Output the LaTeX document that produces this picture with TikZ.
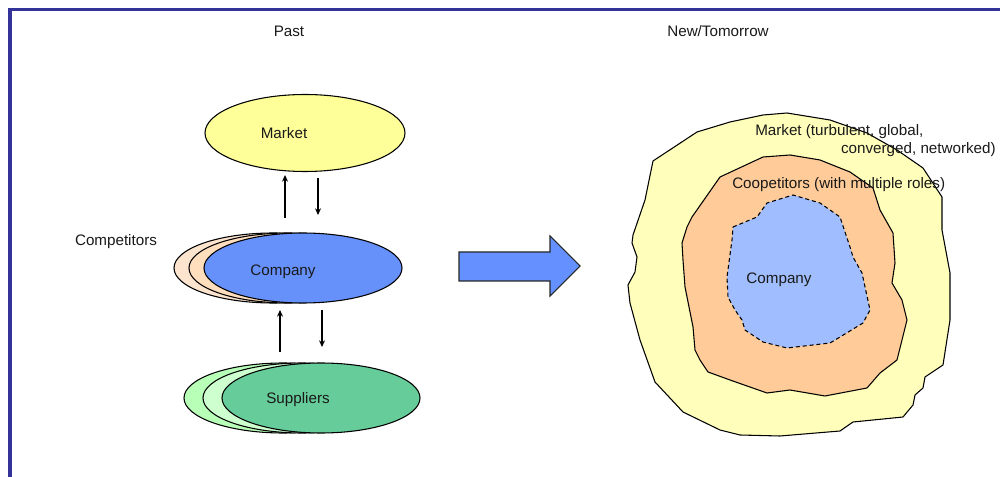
\documentclass[tikz,border=0pt]{standalone}
\usepackage{fontspec}
\setmainfont{Liberation Sans}
\usetikzlibrary{shapes.geometric,arrows.meta}
\definecolor{frameblue}{RGB}{51,51,153}
\definecolor{mktyellow}{RGB}{255,255,153}
\definecolor{coblue}{RGB}{102,145,250}
\definecolor{peachA}{RGB}{252,228,206}
\definecolor{peachB}{RGB}{255,222,190}
\definecolor{greenA}{RGB}{184,255,184}
\definecolor{greenB}{RGB}{206,255,206}
\definecolor{supgreen}{RGB}{102,204,153}
\definecolor{blobyellow}{RGB}{255,255,187}
\definecolor{blobpeach}{RGB}{255,204,153}
\definecolor{blobblue}{RGB}{160,190,255}
\definecolor{arrowblue}{RGB}{100,145,255}
\begin{document}
\begin{tikzpicture}[x=0.75pt,y=-0.75pt,
  every node/.style={font=\fontsize{11.4}{13.7}\selectfont, text=black!90},
  oval/.style={ellipse, draw=black, line width=0.8pt, inner sep=0pt,
    minimum width=148.5pt, minimum height=52.5pt},
  flow/.style={line width=1.5pt, -{Stealth[length=5pt,width=4.5pt]}},
  blob/.style={draw=black, line width=0.8pt, line join=round},
  lbl/.style={inner sep=0pt}]
\useasboundingbox (0,0) rectangle (1000,477);
% frame lines along the top and left
\fill[frameblue] (8,8) rectangle (1000,11.5);
\fill[frameblue] (8,8) rectangle (11.5,477);

% headings
\node[lbl] (past) at (289,31) {Past};
\node[lbl] (tomorrow) at (718,31) {New/Tomorrow};

% market
\node[oval, fill=mktyellow, minimum width=150pt, minimum height=57.75pt] (market) at (305,133) {};
\node[lbl] (marketlbl) at (284,133) {Market};

% competitors stacked behind the company
\node[oval, fill=peachA] (compA) at (273,268) {};
\node[oval, fill=peachB] (compB) at (288,268) {};
\node[oval, fill=coblue] (company) at (303,268) {};
\node[lbl] (companylbl) at (283,272) {Company};
\node[lbl] (competitors) at (116,242) {Competitors};

% suppliers stack
\node[oval, fill=greenA] (supA) at (283,398) {};
\node[oval, fill=greenB] (supB) at (302,398) {};
\node[oval, fill=supgreen] (suppliers) at (321,398) {};
\node[lbl] (supplierslbl) at (298,400) {Suppliers};

% flows between market, company and suppliers
\coordinate (u1s) at (285,218); \coordinate (u1e) at (285,175);
\coordinate (d1s) at (318,178); \coordinate (d1e) at (318,215);
\coordinate (u2s) at (280,352); \coordinate (u2e) at (280,310);
\coordinate (d2s) at (322,310); \coordinate (d2e) at (322,347);
\draw[flow] (u1s) -- (u1e);
\draw[flow] (d1s) -- (d1e);
\draw[flow] (u2s) -- (u2e);
\draw[flow] (d2s) -- (d2e);

% transition arrow
\draw[fill=arrowblue, draw=black!85, line width=0.8pt, line join=miter]
  (459,252) -- (550,252) -- (550,236) -- (580,266) -- (550,296) -- (550,281) -- (459,281) -- cycle;

% outer market blob
\draw[blob, fill=blobyellow]
  (653,161) -- (697,132) -- (730,122) -- (763,115) -- (787,113) -- (830,120) -- (867,133)
  -- (897,150) -- (923,168) -- (942,197) -- (942,230) -- (950,273) -- (950,320) -- (943,365)
  -- (925,377) -- (923,388) -- (915,395) -- (913,405) -- (903,417) -- (853,422) -- (840,431)
  -- (780,436) -- (740,435) -- (720,430) -- (683,412) -- (655,382) -- (640,340) -- (630,303)
  -- (628,285) -- (635,272) -- (637,257) -- (632,243) -- (633,235) -- (645,200) -- cycle;

% coopetitors blob
\draw[blob, fill=blobpeach]
  (692,217) -- (720,177) -- (763,157) -- (790,155) -- (820,160) -- (850,172) -- (873,188)
  -- (880,210) -- (893,233) -- (895,263) -- (892,283) -- (902,300) -- (907,320) -- (902,340)
  -- (897,360) -- (880,373) -- (867,388) -- (825,396) -- (790,390) -- (767,393) -- (730,380)
  -- (708,372) -- (700,360) -- (695,350) -- (693,327) -- (685,287) -- (683,260) -- (682,243)
  -- (687,227) -- cycle;

% company core, dashed
\draw[blob, fill=blobblue, dash pattern=on 3pt off 2.2pt]
  (733,227) -- (757,217) -- (767,203) -- (793,195) -- (820,203) -- (840,217) -- (850,247)
  -- (853,257) -- (862,273) -- (870,310) -- (863,323) -- (840,337) -- (830,343) -- (787,348)
  -- (763,342) -- (745,330) -- (742,320) -- (735,310) -- (728,297) -- (727,277) -- (732,240) -- cycle;

% blob labels
\node[lbl, anchor=west] (mktnew1) at (755,132) {Market (turbulent, global,};
\node[lbl, anchor=east] (mktnew2) at (996,150) {converged, networked)};
\node[lbl, anchor=west] (coop) at (732,185) {Coopetitors (with multiple roles)};
\node[lbl] (companynew) at (779,280) {Company};
\end{tikzpicture}
\end{document}
